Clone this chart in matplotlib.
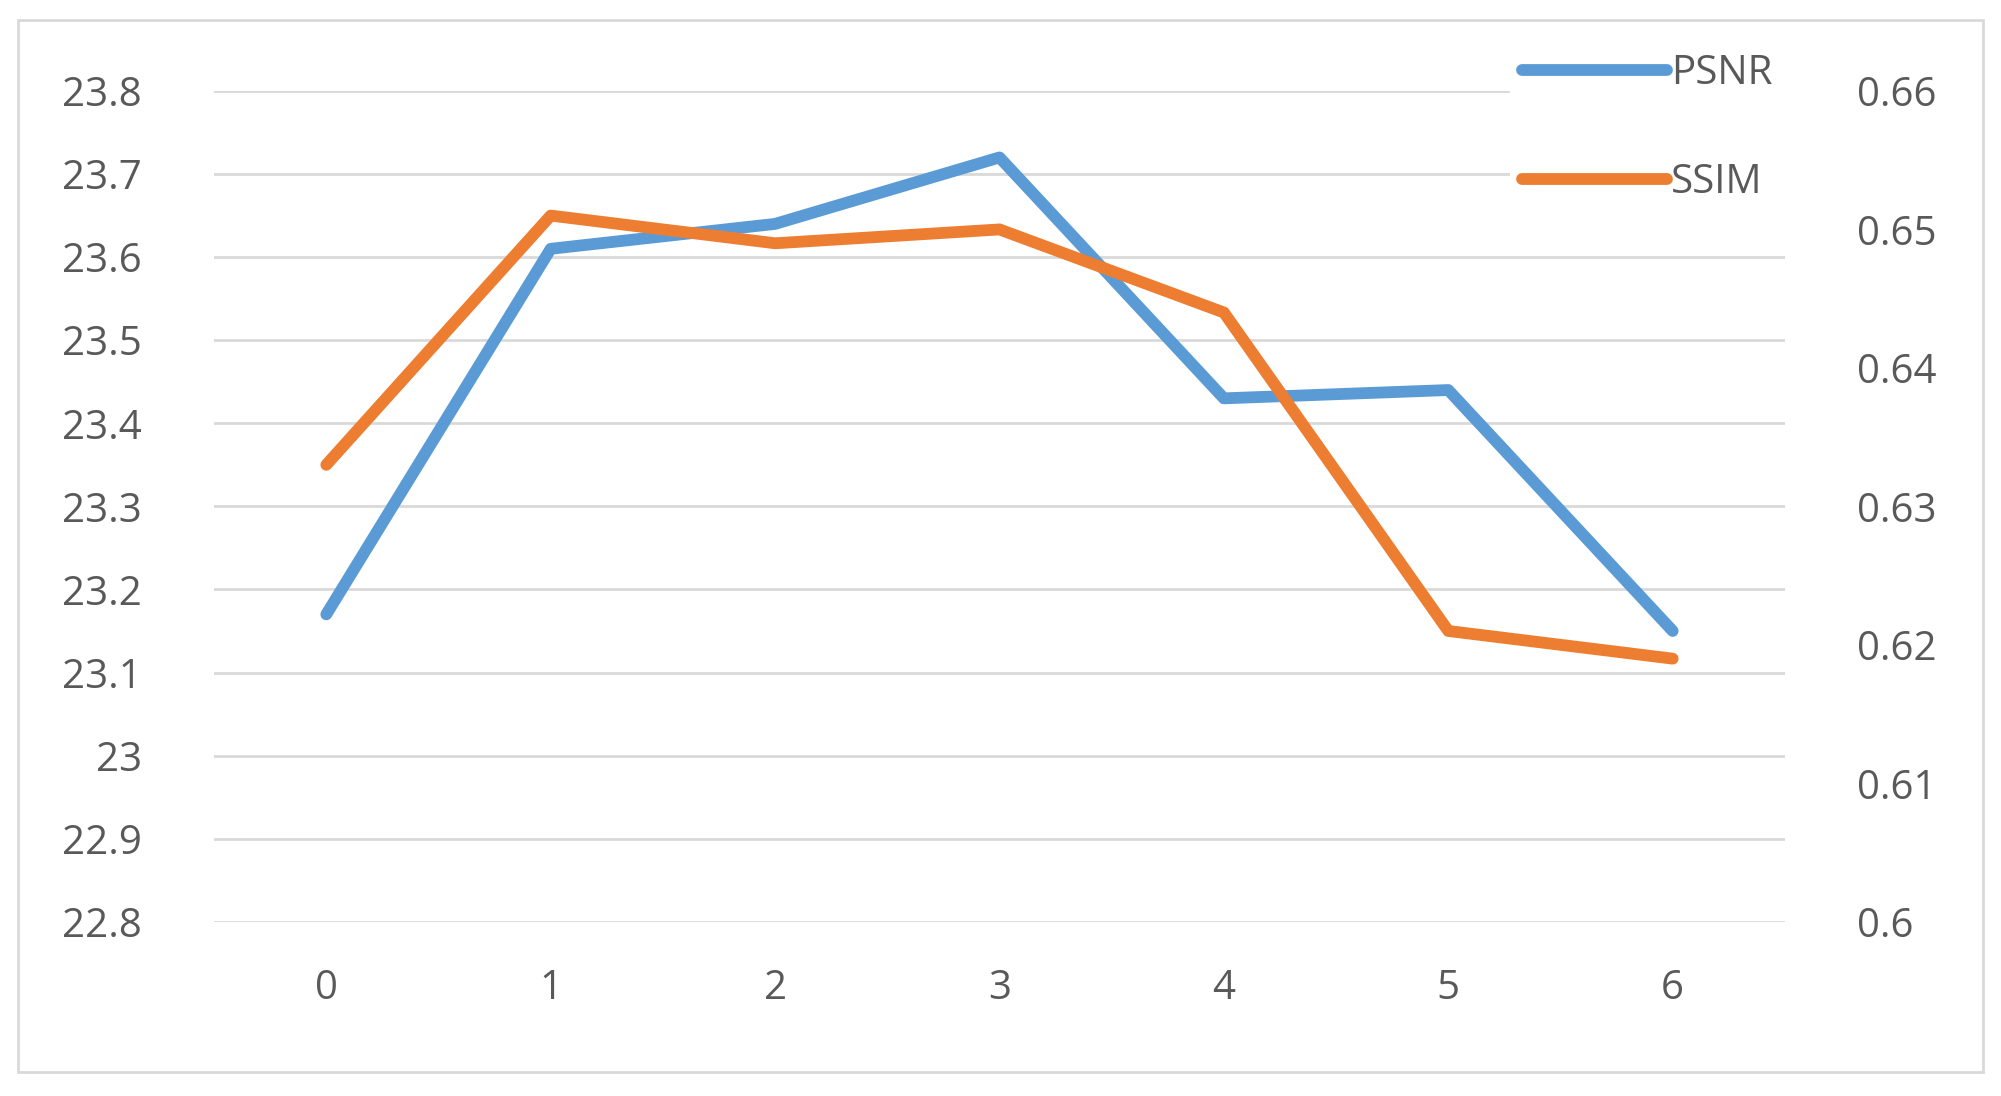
import matplotlib
matplotlib.use("Agg")
import matplotlib.pyplot as plt
from matplotlib.patches import Rectangle

categories = ["0", "1", "2", "3", "4", "5", "6"]
psnr = [23.17, 23.61, 23.64, 23.72, 23.43, 23.44, 23.15]
ssim = [0.633, 0.651, 0.649, 0.650, 0.644, 0.621, 0.619]
left_ticks = [22.8, 22.9, 23.0, 23.1, 23.2, 23.3, 23.4, 23.5, 23.6, 23.7, 23.8]
left_labels = ["22.8", "22.9", "23", "23.1", "23.2", "23.3", "23.4", "23.5", "23.6", "23.7", "23.8"]
right_ticks = [0.60, 0.61, 0.62, 0.63, 0.64, 0.65, 0.66]
right_labels = ["0.6", "0.61", "0.62", "0.63", "0.64", "0.65", "0.66"]

plt.rcParams['font.family'] = ['Open Sans', 'DejaVu Sans']
fig = plt.figure(figsize=(20.01, 10.96), dpi=100)
fig.patches.append(Rectangle((0.009, 0.022), 0.982, 0.96, transform=fig.transFigure,
                             fill=False, edgecolor="#d9d9d9", linewidth=2))
ax = fig.add_axes([0.107, 0.159, 0.785, 0.758])
ax2 = ax.twinx()
x = list(range(len(categories)))
blue = "#5b9bd5"; orange = "#ed7d31"; gray = "#595959"
l1, = ax.plot(x, psnr, color=blue, lw=8.5, solid_capstyle="round", label="PSNR", zorder=3)
l2, = ax2.plot(x, ssim, color=orange, lw=8.5, solid_capstyle="round", label="SSIM", zorder=3)
ax.set_ylim(22.8, 23.8); ax2.set_ylim(0.60, 0.66)
ax.set_xlim(-0.5, 6.5)
ax.set_yticks(left_ticks, left_labels)
ax2.set_yticks(right_ticks, right_labels)
ax.set_xticks(x, categories)
for a in (ax, ax2):
    for s in a.spines.values():
        s.set_visible(False)
    a.tick_params(length=0, labelsize=29, colors=gray)
ax.tick_params(axis="y", pad=52)
ax.tick_params(axis="x", pad=34)
ax2.tick_params(axis="y", pad=52)
ax.grid(axis="y", color="#d9d9d9", lw=2)
ax.set_axisbelow(True)
ax2.set_zorder(ax.get_zorder() + 1)
ax.patch.set_visible(False)
leg = ax2.legend([l1, l2], ["PSNR", "SSIM"], loc="upper right", bbox_to_anchor=(1.0, 1.06),
                 frameon=True, facecolor="white", edgecolor="none", framealpha=1,
                 fontsize=29, labelcolor=gray, handlelength=3.6, handletextpad=0.1,
                 labelspacing=1.7, borderaxespad=0, borderpad=0.3)
fig.savefig("out.png", dpi=100)
